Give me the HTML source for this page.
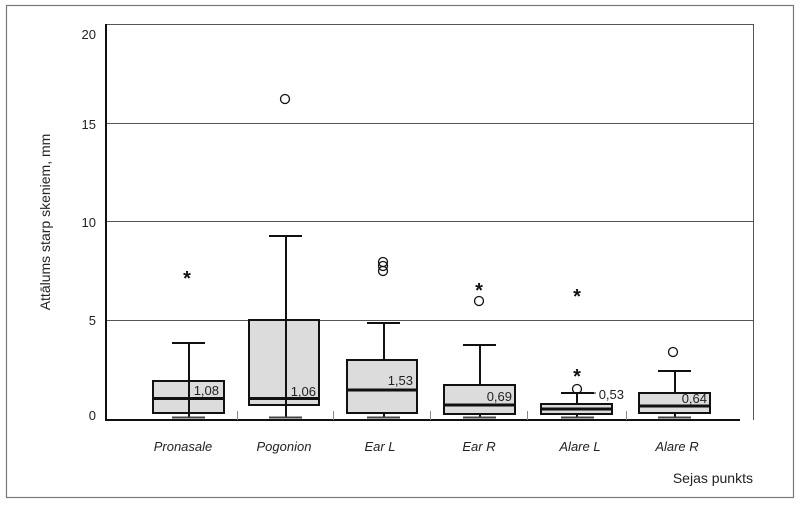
<!DOCTYPE html>
<html><head><meta charset="utf-8"><style>
html,body{margin:0;padding:0;background:#fff;}
svg{display:block;font-family:"Liberation Sans",sans-serif;}
</style></head><body>
<svg width="800" height="506" viewBox="0 0 800 506" xmlns="http://www.w3.org/2000/svg">
<rect x="6.5" y="5.5" width="787" height="492" fill="#fff" stroke="#777" stroke-width="1.2"/>
<g stroke="#555" stroke-width="1">
<line x1="106" y1="24.5" x2="753" y2="24.5"/>
<line x1="106" y1="123.5" x2="753" y2="123.5"/>
<line x1="106" y1="221.5" x2="753" y2="221.5"/>
<line x1="106" y1="320.5" x2="753" y2="320.5"/>
<line x1="753.5" y1="24" x2="753.5" y2="420"/>
</g>
<line x1="106" y1="24" x2="106" y2="421" stroke="#111" stroke-width="2"/>
<line x1="105" y1="420" x2="740" y2="420" stroke="#111" stroke-width="2"/>
<g stroke="#888" stroke-width="1">
<line x1="237.5" y1="411" x2="237.5" y2="420"/><line x1="333.5" y1="411" x2="333.5" y2="420"/>
<line x1="430.5" y1="411" x2="430.5" y2="420"/><line x1="527.5" y1="411" x2="527.5" y2="420"/>
<line x1="626.5" y1="411" x2="626.5" y2="420"/>
</g>
<g font-size="13" fill="#222" text-anchor="end">
<text x="96" y="39">20</text><text x="96" y="129">15</text><text x="96" y="227">10</text>
<text x="96" y="325">5</text><text x="96" y="420">0</text>
</g>
<text transform="translate(50,222) rotate(-90)" font-size="14" fill="#222" text-anchor="middle">Attālums starp skeniem, mm</text>
<g font-size="13" fill="#222" font-style="italic" text-anchor="middle">
<text x="183" y="451">Pronasale</text><text x="284" y="451">Pogonion</text><text x="380" y="451">Ear L</text>
<text x="479" y="451">Ear R</text><text x="580" y="451">Alare L</text><text x="677" y="451">Alare R</text>
</g>
<text x="753" y="483" font-size="14" fill="#222" text-anchor="end">Sejas punkts</text>
<g stroke="#111" stroke-width="2" fill="#dcdcdc">
<line x1="189" y1="343" x2="189" y2="418"/><line x1="172" y1="343" x2="205" y2="343"/><line x1="172" y1="417.5" x2="205" y2="417.5" stroke="#444"/>
<rect x="153" y="381" width="71" height="32"/><line x1="189" y1="381" x2="189" y2="413"/><line x1="153" y1="398.5" x2="224" y2="398.5" stroke-width="3"/>
<line x1="286" y1="236" x2="286" y2="418"/><line x1="269" y1="236" x2="302" y2="236"/><line x1="269" y1="417.5" x2="302" y2="417.5" stroke="#444"/>
<rect x="249" y="320" width="70" height="85"/><line x1="286" y1="320" x2="286" y2="405"/><line x1="248" y1="398.5" x2="320" y2="398.5" stroke-width="3"/>
<line x1="384" y1="323" x2="384" y2="360"/><line x1="367" y1="323" x2="400" y2="323"/><line x1="384" y1="413" x2="384" y2="418"/><line x1="367" y1="417.5" x2="400" y2="417.5" stroke="#444"/>
<rect x="347" y="360" width="70" height="53"/><line x1="347" y1="390" x2="417" y2="390" stroke-width="3"/>
<line x1="480" y1="345" x2="480" y2="385"/><line x1="463" y1="345" x2="496" y2="345"/><line x1="480" y1="414" x2="480" y2="418"/><line x1="463" y1="417.5" x2="496" y2="417.5" stroke="#444"/>
<rect x="444" y="385" width="71" height="29"/><line x1="444" y1="405" x2="515" y2="405" stroke-width="3"/>
<line x1="577" y1="393" x2="577" y2="404"/><line x1="561" y1="393" x2="594" y2="393"/><line x1="577" y1="414" x2="577" y2="418"/><line x1="561" y1="417.5" x2="594" y2="417.5" stroke="#444"/>
<rect x="541" y="404" width="71" height="10"/><line x1="541" y1="409" x2="612" y2="409" stroke-width="3"/>
<line x1="590" y1="393" x2="596" y2="393" stroke-width="1"/>
<line x1="675" y1="371" x2="675" y2="393"/><line x1="658" y1="371" x2="691" y2="371"/><line x1="675" y1="413" x2="675" y2="418"/><line x1="658" y1="417.5" x2="691" y2="417.5" stroke="#444"/>
<rect x="639" y="393" width="71" height="20"/><line x1="639" y1="406" x2="710" y2="406" stroke-width="3"/>
</g>
<g fill="none" stroke="#111" stroke-width="1.3">
<circle cx="285" cy="99" r="4.5"/>
<circle cx="383" cy="262" r="4.5"/><circle cx="383" cy="266" r="4.5"/><circle cx="383" cy="271" r="4.5"/>
<circle cx="479" cy="301" r="4.5"/>
<circle cx="577" cy="389" r="4.5"/>
<circle cx="673" cy="352" r="4.5"/>
</g>
<g font-size="20" font-weight="bold" fill="#111" text-anchor="middle">
<text x="187" y="285">*</text><text x="479" y="297">*</text><text x="577" y="303">*</text><text x="577" y="383">*</text>
</g>
<g font-size="13" fill="#222" text-anchor="end">
<text x="219" y="395">1,08</text><text x="316" y="396">1,06</text><text x="413" y="385">1,53</text>
<text x="512" y="401">0,69</text><text x="624" y="399">0,53</text><text x="707" y="403">0,64</text>
</g>
</svg>
</body></html>
